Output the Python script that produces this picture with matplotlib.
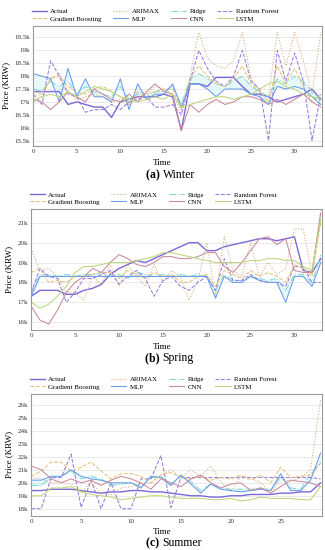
import matplotlib
matplotlib.use("Agg")
import matplotlib.pyplot as plt
from matplotlib.ticker import FuncFormatter

plt.rcParams['font.family'] = ['Liberation Serif', 'DejaVu Serif']

# series names and styles
names = ["Actual", "ARIMAX", "Ridge", "Random Forest",
         "Gradient Boosting", "MLP", "CNN", "LSTM"]
colors = ["#7b68d9", "#d9a878", "#7fd8d8", "#9a7ae0",
          "#e3c27a", "#6c9be8", "#c98a9a", "#bcd67c"]
styles = ["-", ":", "-.", "--", "--", "-", "-", "-"]

# ---- (a) Winter, values in KRW ----
winter_actual = [17.4, 17.4, 17.4, 17.4, 16.9, 17.0, 16.9, 16.8, 16.8, 16.4, 17.0, 17.1, 17.2, 17.2, 17.2, 17.3, 17.2,
                 15.9, 17.7, 17.7, 17.6, 17.95, 17.95, 17.95, 17.6, 17.3, 17.3, 17.2, 17.0, 17.1, 17.2, 17.3, 17.5, 17.1]
winter_arimax = [17.3, 17.2, 17.9, 18.1, 17.4, 17.1, 17.2, 17.3, 17.2, 17.0, 17.1, 16.9, 17.2, 17.3, 17.6, 17.5, 17.3,
                 16.6, 18.0, 19.7, 18.7, 18.4, 18.3, 18.6, 19.7, 17.9, 17.4, 17.2, 19.7, 18.4, 19.7, 18.6, 17.3, 19.7]
winter_ridge = [17.5, 17.4, 17.8, 17.6, 17.8, 17.3, 17.6, 17.4, 17.3, 17.2, 17.6, 17.1, 17.3, 17.2, 17.4, 17.4, 17.6,
                16.9, 17.9, 18.1, 17.9, 17.7, 17.6, 17.8, 18.0, 17.6, 17.4, 17.2, 17.9, 17.7, 18.0, 17.8, 17.4, 17.1]
winter_rf = [17.3, 16.9, 18.6, 18.0, 17.3, 17.2, 16.6, 16.7, 16.7, 16.9, 16.7, 17.0, 17.1, 17.2, 16.8, 16.8, 16.9,
             16.5, 17.8, 19.0, 18.3, 17.8, 17.6, 18.0, 19.0, 17.8, 17.5, 15.5, 19.0, 17.8, 18.9, 17.8, 15.5, 17.3]
winter_gb = [17.4, 17.3, 17.9, 18.0, 17.6, 17.4, 17.3, 17.5, 17.6, 17.4, 17.2, 16.9, 17.4, 17.3, 17.4, 17.5, 17.5,
             16.7, 17.9, 18.4, 18.0, 17.7, 17.6, 17.9, 18.4, 17.7, 17.4, 17.0, 18.4, 17.7, 18.3, 17.6, 17.0, 17.3]
winter_mlp = [18.1, 18.0, 17.9, 17.0, 18.3, 17.2, 17.9, 17.2, 17.2, 17.0, 17.9, 16.7, 17.7, 17.1, 17.3, 17.3, 17.7,
              16.8, 17.7, 17.7, 17.5, 17.2, 17.5, 17.5, 17.5, 17.3, 17.2, 16.9, 17.6, 17.5, 17.6, 17.5, 17.2, 16.9]
winter_cnn = [17.1, 17.0, 16.7, 17.0, 17.4, 17.2, 17.0, 17.5, 17.3, 17.1, 17.0, 17.3, 17.0, 17.4, 17.7, 17.4, 17.3,
              15.9, 16.9, 16.6, 16.9, 17.1, 16.9, 17.0, 17.2, 17.2, 17.1, 16.9, 17.1, 16.9, 17.1, 17.3, 17.0, 16.8]
winter_lstm = [17.0, 17.2, 17.3, 17.2, 17.4, 17.2, 17.4, 17.6, 17.5, 17.4, 17.2, 17.1, 17.0, 17.1, 17.2, 17.1, 17.3,
               16.8, 16.9, 17.0, 17.1, 17.2, 17.2, 17.1, 17.2, 17.3, 17.5, 17.7, 17.8, 17.6, 17.5, 17.3, 17.2, 17.1]

# ---- (b) Spring ----
spring_actual = [17.3, 17.6, 17.6, 17.6, 17.4, 17.4, 17.6, 17.7, 17.9, 18.4, 18.7, 18.9, 19.1, 19.0, 19.2, 19.4, 19.6,
                 19.8, 20.0, 20.0, 19.6, 19.6, 19.8, 19.9, 20.0, 20.1, 20.2, 20.2, 20.1, 20.2, 20.3, 18.6, 18.5, 19.2]
spring_arimax = [19.7, 18.6, 18.7, 18.3, 17.5, 17.5, 17.1, 18.3, 17.9, 18.9, 17.8, 18.9, 18.3, 17.8, 18.9, 18.0, 18.6,
                 18.3, 17.1, 18.1, 20.0, 17.3, 20.3, 18.6, 18.3, 20.0, 18.3, 19.0, 18.4, 18.7, 20.7, 20.7, 18.4, 21.7]
spring_ridge = [17.5, 18.4, 18.4, 18.3, 18.4, 18.3, 18.4, 18.4, 18.5, 18.3, 18.4, 18.2, 18.5, 18.4, 18.3, 18.4, 18.3,
                18.4, 18.3, 18.4, 18.3, 17.6, 18.4, 18.1, 18.1, 18.3, 18.2, 18.1, 18.2, 17.6, 18.4, 18.4, 18.0, 19.4]
spring_rf = [17.5, 18.7, 18.3, 18.2, 17.0, 17.5, 18.2, 18.2, 18.4, 18.6, 17.9, 18.3, 18.6, 18.2, 17.3, 18.1, 18.3,
             17.8, 17.6, 18.0, 18.3, 17.6, 19.2, 18.1, 18.1, 18.4, 18.1, 18.0, 18.0, 17.8, 18.8, 18.8, 18.0, 18.0]
spring_gb = [18.5, 18.7, 18.0, 18.1, 18.0, 18.3, 18.3, 18.4, 18.5, 18.5, 18.2, 18.6, 18.4, 18.2, 18.5, 18.3, 18.4,
             18.0, 18.0, 18.3, 18.4, 17.8, 18.6, 18.4, 18.2, 18.6, 18.3, 18.5, 18.3, 18.0, 18.9, 18.7, 18.3, 21.0]
spring_mlp = [17.3, 18.3, 18.3, 18.3, 18.3, 18.3, 18.3, 18.3, 18.3, 18.3, 18.3, 18.3, 18.3, 18.3, 18.3, 18.3, 18.3,
              18.3, 18.3, 18.3, 18.3, 17.2, 18.3, 18.0, 18.0, 18.3, 18.1, 18.0, 18.0, 17.0, 18.3, 18.3, 17.8, 19.0]
spring_cnn = [16.8, 16.1, 15.9, 16.6, 17.5, 18.0, 18.3, 18.7, 18.5, 19.0, 19.4, 19.2, 18.9, 18.8, 19.0, 19.3, 19.3,
              19.2, 19.2, 19.3, 19.5, 19.5, 18.8, 18.5, 19.0, 19.6, 20.2, 20.3, 19.9, 20.2, 18.6, 18.5, 18.5, 21.5]
spring_lstm = [17.0, 16.7, 16.9, 17.3, 17.8, 18.5, 18.8, 18.8, 18.9, 19.0, 19.0, 19.0, 19.1, 19.2, 19.3, 19.5, 19.5,
               19.4, 19.3, 19.2, 19.1, 19.0, 19.0, 19.0, 19.0, 19.1, 19.1, 19.2, 19.2, 19.1, 19.1, 18.8, 18.6, 21.2]

# ---- (c) Summer ----
summer_actual = [19.4, 19.4, 19.5, 19.5, 19.5, 19.4, 19.3, 19.2, 19.3, 19.3, 19.4, 19.4, 19.3, 19.3, 19.2,
                 19.1, 19.0, 19.0, 18.9, 18.9, 19.0, 19.0, 19.1, 19.1, 19.1, 19.2, 19.2, 19.3, 19.3, 20.0]
summer_arimax = [20.4, 20.3, 20.0, 20.0, 19.9, 19.3, 20.0, 19.2, 19.1, 19.6, 19.7, 19.9, 20.0, 20.6, 21.0,
                 20.4, 21.0, 20.5, 21.3, 20.1, 19.3, 20.5, 20.4, 20.0, 19.2, 20.3, 20.1, 20.4, 21.0, 26.4]
summer_ridge = [19.8, 19.8, 20.4, 20.5, 20.9, 20.3, 20.5, 20.3, 19.8, 19.9, 20.0, 19.7, 20.4, 20.5, 19.9,
                20.5, 20.1, 19.4, 19.9, 19.6, 19.5, 19.5, 19.5, 19.6, 19.4, 20.5, 19.6, 19.5, 20.7, 21.6]
summer_rf = [18.0, 18.0, 20.4, 20.4, 22.2, 18.1, 20.2, 18.0, 20.0, 18.0, 18.0, 20.3, 20.3, 22.1, 18.1,
             20.4, 20.4, 20.4, 20.4, 20.4, 20.4, 20.4, 20.4, 20.4, 20.4, 20.4, 20.4, 20.4, 20.4, 20.3]
summer_gb = [20.5, 20.9, 21.6, 21.6, 20.9, 21.2, 21.6, 20.9, 20.3, 20.7, 20.7, 20.5, 20.0, 20.6, 20.8,
             20.4, 20.3, 20.5, 20.2, 20.4, 20.3, 20.6, 20.2, 20.6, 20.0, 21.2, 20.4, 20.5, 20.6, 21.5]
summer_mlp = [20.2, 20.2, 20.5, 20.5, 21.0, 20.5, 20.3, 20.2, 20.0, 20.0, 20.0, 19.6, 20.5, 20.4, 19.8,
              20.6, 19.9, 19.2, 19.9, 19.5, 19.4, 19.3, 19.4, 19.5, 19.4, 20.7, 19.4, 19.4, 20.2, 22.3]
summer_cnn = [21.3, 21.0, 20.3, 20.0, 20.3, 20.0, 20.2, 19.8, 20.2, 20.5, 20.3, 20.0, 19.5, 20.3, 20.0,
              19.7, 20.3, 20.6, 20.0, 19.6, 19.9, 20.0, 19.4, 19.6, 19.2, 19.7, 20.2, 20.1, 20.0, 19.7]
summer_lstm = [19.0, 19.0, 19.6, 19.6, 19.7, 19.3, 19.1, 19.0, 18.9, 18.7, 18.8, 18.9, 19.0, 19.0, 18.9,
               18.8, 18.8, 18.8, 18.7, 18.7, 18.8, 18.6, 18.7, 18.9, 18.8, 18.8, 18.8, 18.7, 18.7, 19.7]

panels = [
    ("Winter", "(a)", [winter_actual, winter_arimax, winter_ridge, winter_rf,
                        winter_gb, winter_mlp, winter_cnn, winter_lstm],
     [15.5, 16, 16.5, 17, 17.5, 18, 18.5, 19, 19.5], (15.3, 19.95), [0, 5, 10, 15, 20, 25, 30]),
    ("Spring", "(b)", [spring_actual, spring_arimax, spring_ridge, spring_rf,
                        spring_gb, spring_mlp, spring_cnn, spring_lstm],
     [16, 17, 18, 19, 20, 21], (15.6, 21.7), [0, 5, 10, 15, 20, 25, 30]),
    ("Summer", "(c)", [summer_actual, summer_arimax, summer_ridge, summer_rf,
                        summer_gb, summer_mlp, summer_cnn, summer_lstm],
     [18, 19, 20, 21, 22, 23, 24, 25, 26], (17.45, 26.85), [0, 5, 10, 15, 20, 25]),
]

# axes boxes in figure fractions [left, bottom, width, height]
boxes = [[0.102, 0.735, 0.889, 0.218],
         [0.096, 0.400, 0.895, 0.220],
         [0.096, 0.062, 0.895, 0.222]]
time_y = [1 - 163 / 550, 1 - 347 / 550, 1 - 532 / 550]
caption_y = [1 - 175 / 550, 1 - 358 / 550, 1 - 543 / 550]


def kfmt(v, pos):
    return f"{v:g}k"


fig = plt.figure(figsize=(3.25, 5.5), dpi=100)

for (season, tag, series, yticks, ylim, xticks), box, cy, ty in zip(panels, boxes, caption_y, time_y):
    ax = fig.add_axes(box)
    x = list(range(len(series[0])))
    # light band between Ridge and MLP
    ax.fill_between(x, series[2], series[5], color="#c8f2f2", alpha=0.45, lw=0)
    lines = []
    for vals, name, c, ls in zip(series, names, colors, styles):
        lw = 1.0 if name == "Actual" else 0.75
        ln, = ax.plot(x, vals, color=c, ls=ls, lw=lw, label=name)
        lines.append(ln)
    ax.set_xlim(0, len(x) - 1 + 0.15)
    ax.set_ylim(*ylim)
    ax.set_yticks(yticks)
    ax.set_xticks(xticks)
    ax.yaxis.set_major_formatter(FuncFormatter(kfmt))
    ax.tick_params(labelsize=5, length=0, pad=2, colors="#333333")
    ax.grid(axis="y", color="#e6e6e6", lw=0.6)
    ax.set_axisbelow(True)
    for sp in ax.spines.values():
        sp.set_color("#999999")
        sp.set_linewidth(0.8)
    ax.set_ylabel("Price (KRW)", fontsize=6.5, labelpad=3)
    fig.text(0.5, ty, "Time", ha="center", va="center", fontsize=6.5)
    # legend: 4 columns, filled row-wise like the reference
    order = [0, 4, 1, 5, 2, 6, 3, 7]
    ax.legend([lines[i] for i in order], [names[i] for i in order],
              ncol=4, loc="lower left", bbox_to_anchor=(-0.02, 1.0),
              frameon=False, fontsize=5, handlelength=2.2,
              columnspacing=1.6, handletextpad=0.5, labelspacing=0.2,
              borderaxespad=0.2)
    fig.text(0.5, cy, tag + " ", ha="right", va="center", fontsize=8.5, fontweight="bold")
    fig.text(0.5, cy, season, ha="left", va="center", fontsize=8.5)

fig.savefig("out.png", dpi=100)
